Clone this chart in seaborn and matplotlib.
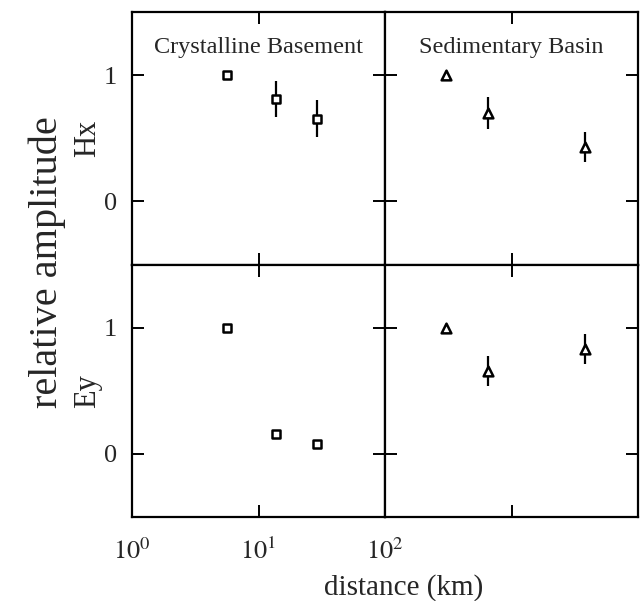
import numpy as np
import pandas as pd
import matplotlib
matplotlib.use("Agg")
import matplotlib.pyplot as plt
from matplotlib.ticker import FixedLocator, NullLocator, FixedFormatter
import seaborn as sns

# ---- data ----
basement_dist = [5.6, 13.8, 29.2]
basement_hx = [1.0, 0.81, 0.655]
basement_hx_err = [0.0, 0.14, 0.146]
basement_ey = [1.0, 0.156, 0.082]
basement_ey_err = [0.0, 0.0, 0.0]

basin_dist = [302, 647, 3780]
basin_hx = [1.0, 0.70, 0.43]
basin_hx_err = [0.0, 0.13, 0.117]
basin_ey = [1.0, 0.655, 0.83]
basin_ey_err = [0.0, 0.12, 0.122]

panel_titles = ["Crystalline Basement", "Sedimentary Basin"]
row_labels = ["Hx", "Ey"]
ytick_vals = [0, 1]
left_xticks = [1, 10, 100]
left_xticklabels = [r"$10^0$", r"$10^1$", r"$10^2$"]
right_xticks = [100, 1000, 10000]

sns.set_theme(style="ticks")
plt.rcParams["font.family"] = ["Liberation Serif", "DejaVu Serif"]
plt.rcParams["mathtext.fontset"] = "stix"

fig = plt.figure(figsize=(6.41, 6.01), dpi=100)
W, H = 641, 601
left, right, top, bottom = 132 / W, 638 / W, 1 - 12 / H, 1 - 517 / H
gs = fig.add_gridspec(2, 2, left=left, right=right, top=top, bottom=bottom,
                      wspace=0, hspace=0)

datasets = {
    (0, 0): (basement_dist, basement_hx, basement_hx_err, "s", 6.0),
    (1, 0): (basement_dist, basement_ey, basement_ey_err, "s", 6.0),
    (0, 1): (basin_dist, basin_hx, basin_hx_err, "^", 7.0),
    (1, 1): (basin_dist, basin_ey, basin_ey_err, "^", 7.0),
}

for (r, c), (xs, ys, es, mk, ms) in datasets.items():
    ax = fig.add_subplot(gs[r, c])
    df = pd.DataFrame({"x": xs, "y": ys, "e": es})
    errdf = df[df["e"] > 0]
    if len(errdf):
        ax.errorbar(errdf["x"], errdf["y"], yerr=errdf["e"], fmt="none",
                    ecolor="black", elinewidth=1.6, capsize=0, zorder=2)
    sns.scatterplot(data=df, x="x", y="y", ax=ax, marker=mk,
                    s=(ms ** 2), facecolor="white", edgecolor="black",
                    linewidth=1.8, zorder=3, legend=False)
    ax.set_xscale("log")
    if c == 0:
        ax.set_xlim(1, 100)
        ax.xaxis.set_major_locator(FixedLocator(left_xticks))
    else:
        ax.set_xlim(100, 10000)
        ax.xaxis.set_major_locator(FixedLocator(right_xticks))
    ax.xaxis.set_minor_locator(NullLocator())
    ax.set_ylim(-0.5, 1.5)
    ax.yaxis.set_major_locator(FixedLocator(ytick_vals))
    ax.set_xlabel("")
    ax.set_ylabel("")
    for sp in ax.spines.values():
        sp.set_visible(True)
        sp.set_linewidth(1.6)
        sp.set_color("black")
    ax.tick_params(axis="both", which="major", direction="in", length=8.5,
                   width=1.4, color="black", top=True, right=True,
                   labelsize=19, pad=11)
    if r == 1 and c == 0:
        ax.xaxis.set_major_formatter(FixedFormatter(left_xticklabels))
        ax.tick_params(axis="x", labelsize=19, pad=15)
    else:
        ax.tick_params(axis="x", labelbottom=False)
    if c == 0:
        ax.set_yticklabels([str(v) for v in ytick_vals])
        ax.text(-0.175, 0.5, row_labels[r], transform=ax.transAxes,
                rotation=90, ha="center", va="center", fontsize=22)
    else:
        ax.tick_params(axis="y", labelleft=False)
    if r == 0:
        ax.text(0.5, 0.86, panel_titles[c], transform=ax.transAxes,
                ha="center", va="center", fontsize=17.5)

fig.text(47 / W, 1 - 262 / H, "relative amplitude", rotation=90,
         ha="center", va="center", fontsize=29)
fig.text(404 / W, 1 - 588 / H, "distance (km)", ha="center", va="center",
         fontsize=21)

fig.savefig("out.png", dpi=100)
